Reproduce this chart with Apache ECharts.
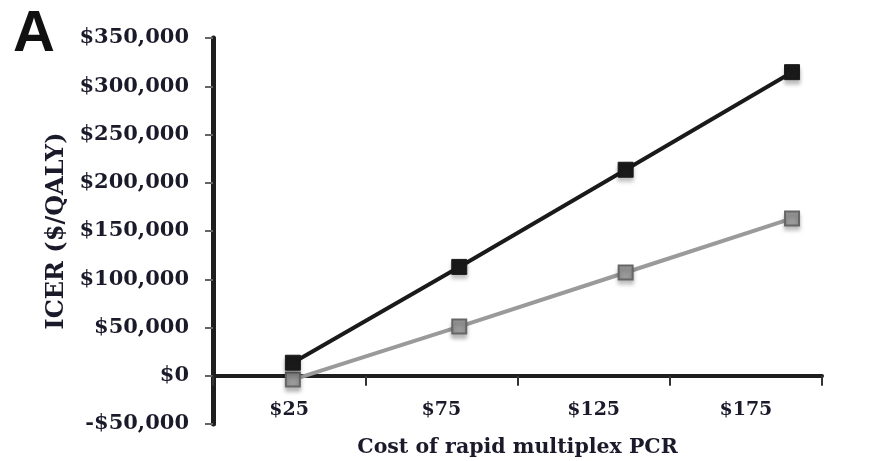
<!DOCTYPE html>
<html>
<head>
<meta charset="utf-8">
<script src="https://cdn.jsdelivr.net/npm/echarts@6/dist/echarts.min.js"></script>
<style>html,body{margin:0;padding:0;background:#fff;}#c{width:875px;height:461px;}</style>
</head>
<body>
<div id="c"></div>
<script>
var costs = [25, 75, 125, 175];
var costLabels = ['$25', '$75', '$125', '$175'];
var seriesBlack = [13500, 112800, 213500, 314600];
var seriesGray = [-4000, 51000, 107000, 163000];
var yTicks = [-50000, 0, 50000, 100000, 150000, 200000, 250000, 300000, 350000];

function money(v) {
  var s = Math.abs(v).toLocaleString('en-US');
  return (v < 0 ? '-$' : '$') + s;
}
function pairs(vals) { return costs.map(function (c, i) { return [c, vals[i]]; }); }

var serif = 'DejaVu Serif';
var chart = echarts.init(document.getElementById('c'));
chart.setOption({
  animation: false,
  title: {
    text: 'A', left: 8, top: 1,
    textStyle: { fontFamily: 'Liberation Sans', fontWeight: 'bold', fontSize: 58, color: '#111' }
  },
  grid: { left: 213, right: 53, top: 38, bottom: 37, containLabel: false, outerBoundsMode: 'none' },
  xAxis: [{
    type: 'category',
    data: costLabels,
    boundaryGap: true,
    axisLine: { onZero: true, lineStyle: { color: '#1e1e1e', width: 4 } },
    axisTick: { show: true, inside: false, length: 10, lineStyle: { color: '#333', width: 2 } },
    axisLabel: { margin: -23, fontFamily: serif, fontWeight: 'bold', fontSize: 19, color: '#1a1a2a' },
    name: 'Cost of rapid multiplex PCR',
    nameLocation: 'middle',
    nameGap: 13,
    nameTextStyle: { fontFamily: serif, fontWeight: 'bold', fontSize: 20.5, color: '#1a1a2a' },
    splitLine: { show: false }
  }, {
    type: 'value',
    show: false,
    min: 1,
    max: 184,
    splitLine: { show: false }
  }],
  yAxis: {
    type: 'value',
    min: yTicks[0],
    max: yTicks[yTicks.length - 1],
    interval: 50000,
    axisLine: { show: true, lineStyle: { color: '#1e1e1e', width: 5 } },
    axisTick: { show: true, inside: false, length: 8, lineStyle: { color: '#666', width: 2 } },
    axisLabel: { margin: 24, fontFamily: serif, fontWeight: 'bold', fontSize: 21, color: '#1a1a2a', formatter: money },
    splitLine: { show: false },
    name: 'ICER ($/QALY)',
    nameLocation: 'middle',
    nameRotate: 90,
    nameGap: 143,
    nameTextStyle: { fontFamily: serif, fontWeight: 'bold', fontSize: 24, color: '#1a1a2a' }
  },
  series: [{
    name: 'Black series',
    type: 'line',
    xAxisIndex: 1,
    data: pairs(seriesBlack),
    symbol: 'rect',
    symbolSize: 15,
    lineStyle: { color: '#1a1a1a', width: 4 },
    itemStyle: { color: '#1a1a1a', borderColor: '#1a1a1a', borderWidth: 1, shadowColor: 'rgba(0,0,0,0.25)', shadowBlur: 4, shadowOffsetY: 4 },
    z: 3
  }, {
    name: 'Gray series',
    type: 'line',
    xAxisIndex: 1,
    data: pairs(seriesGray),
    symbol: 'rect',
    symbolSize: 14,
    lineStyle: { color: '#9a9a9a', width: 4 },
    itemStyle: { color: '#9a9a9a', borderColor: '#666', borderWidth: 2, shadowColor: 'rgba(0,0,0,0.25)', shadowBlur: 4, shadowOffsetY: 4 },
    z: 2
  }]
});
</script>
</body>
</html>
